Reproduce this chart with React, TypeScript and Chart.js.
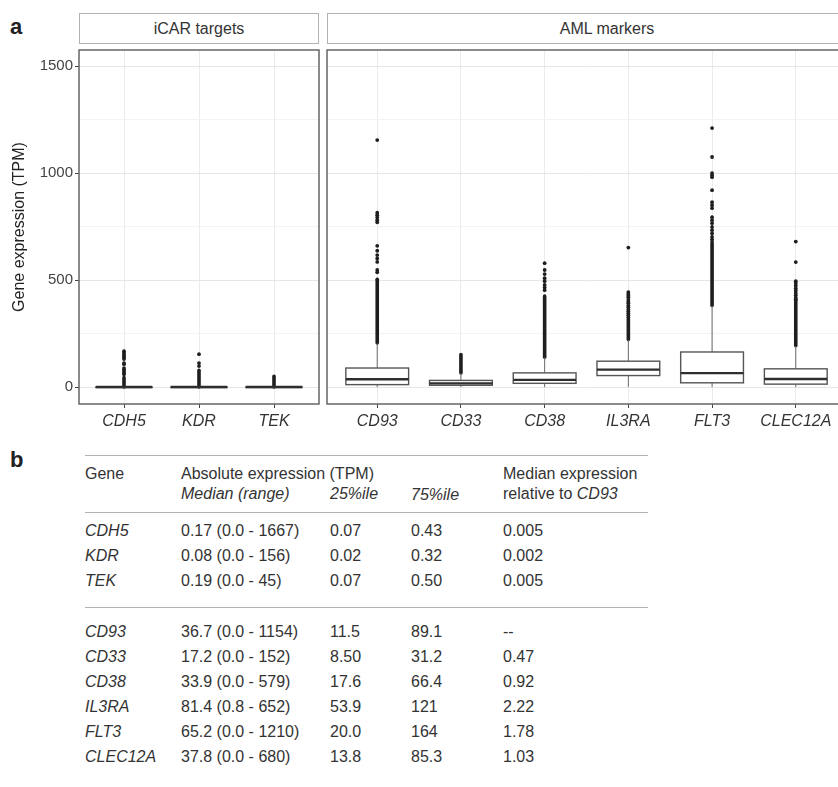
import React, { useEffect, useRef } from "react";
import { Chart, registerables } from "chart.js";
Chart.register(...registerables);

const FONT = '"Liberation Sans", Arial, Helvetica, sans-serif';

// ---------- y axis ----------
const yMin = -79;
const yMax = 1575;
const yGridValues = [0, 250, 500, 750, 1000, 1250, 1500];
const yLabelValues = [0, 500, 1000, 1500];
const yTitle = "Gene expression (TPM)";

// ---------- facet: iCAR targets ----------
const icarTitle = "iCAR targets";
const icarGenes = ["CDH5", "KDR", "TEK"];
const icarQ1 = [0.07, 0.02, 0.07];
const icarMedian = [0.17, 0.08, 0.19];
const icarQ3 = [0.43, 0.32, 0.5];
const icarWhiskerLow = [0, 0, 0];
const icarWhiskerHigh = [0.97, 0.77, 1.15];
const icarOutliers = [
  [168, 160, 152, 145, 138, 131, 112, 107, 89, 82, 75, 68, 60],
  [154, 112, 98],
  [],
];
const icarOutlierRuns = [[[1, 44]], [[1, 79]], [[1, 51]]];

// ---------- facet: AML markers ----------
const amlTitle = "AML markers";
const amlGenes = ["CD93", "CD33", "CD38", "IL3RA", "FLT3", "CLEC12A"];
const amlQ1 = [11.5, 8.5, 17.6, 53.9, 20.0, 13.8];
const amlMedian = [36.7, 17.2, 33.9, 81.4, 65.2, 37.8];
const amlQ3 = [89.1, 31.2, 66.4, 121, 164, 85.3];
const amlWhiskerLow = [0, 0, 0, 0.8, 0, 0];
const amlWhiskerHigh = [205, 65, 139, 221, 380, 192];
const amlOutliers = [
  [1154, 815, 803, 792, 780, 770, 660, 637, 617, 601, 585, 547, 536, 503],
  [],
  [579, 547, 528, 509, 495, 477, 465, 453],
  [652, 444, 436, 428, 420, 408, 399, 392, 381, 373, 362, 354, 345, 336, 326],
  [1210, 1075, 1000, 990, 981, 920, 864, 850, 836, 794, 780, 766, 748, 733, 718, 702, 690],
  [680, 584, 495, 486, 475, 462, 451, 440, 429, 418, 410],
];
const amlOutlierRuns = [
  [[206, 495]],
  [[66, 152]],
  [[140, 425]],
  [[222, 318]],
  [[381, 678]],
  [[193, 407]],
];

// ---------- table ----------
const tableGenes = ["CDH5", "KDR", "TEK", "CD93", "CD33", "CD38", "IL3RA", "FLT3", "CLEC12A"];
const tableMedianRange = [
  "0.17 (0.0 - 1667)",
  "0.08 (0.0 - 156)",
  "0.19 (0.0 - 45)",
  "36.7 (0.0 - 1154)",
  "17.2 (0.0 - 152)",
  "33.9 (0.0 - 579)",
  "81.4 (0.8 - 652)",
  "65.2 (0.0 - 1210)",
  "37.8 (0.0 - 680)",
];
const table25 = ["0.07", "0.02", "0.07", "11.5", "8.50", "17.6", "53.9", "20.0", "13.8"];
const table75 = ["0.43", "0.32", "0.50", "89.1", "31.2", "66.4", "121", "164", "85.3"];
const tableRel = ["0.005", "0.002", "0.005", "--", "0.47", "0.92", "2.22", "1.78", "1.03"];

type Facet = {
  genes: string[];
  q1: number[];
  med: number[];
  q3: number[];
  wLow: number[];
  wHigh: number[];
  outliers: number[][];
  runs: number[][][];
};

const icarFacet: Facet = {
  genes: icarGenes, q1: icarQ1, med: icarMedian, q3: icarQ3,
  wLow: icarWhiskerLow, wHigh: icarWhiskerHigh, outliers: icarOutliers, runs: icarOutlierRuns,
};
const amlFacet: Facet = {
  genes: amlGenes, q1: amlQ1, med: amlMedian, q3: amlQ3,
  wLow: amlWhiskerLow, wHigh: amlWhiskerHigh, outliers: amlOutliers, runs: amlOutlierRuns,
};

function boxPlugin(f: Facet) {
  return {
    id: "boxes",
    beforeDatasetsDraw(chart: any) {
      const { ctx, chartArea, scales } = chart;
      const x = scales.x;
      const y = scales.y;
      const py = (v: number) => y.getPixelForValue(v);
      ctx.save();
      ctx.beginPath();
      ctx.rect(chartArea.left, chartArea.top, chartArea.right - chartArea.left, chartArea.bottom - chartArea.top);
      ctx.clip();
      const half = x.getPixelForValue(1.375) - x.getPixelForValue(1);
      const line = (x1: number, y1: number, x2: number, y2: number) => {
        ctx.beginPath();
        ctx.moveTo(x1, y1);
        ctx.lineTo(x2, y2);
        ctx.stroke();
      };
      f.genes.forEach((_g, i) => {
        const cx = x.getPixelForValue(i + 1);
        // dense outlier runs
        ctx.strokeStyle = "#1e1e1e";
        ctx.lineWidth = 3.6;
        ctx.lineCap = "round";
        f.runs[i].forEach(([a, b]) => line(cx, py(a), cx, py(b)));
        ctx.lineCap = "butt";
        // whiskers
        ctx.strokeStyle = "#6a6a6a";
        ctx.lineWidth = 1;
        line(cx, py(f.q3[i]), cx, py(f.wHigh[i]));
        line(cx, py(f.q1[i]), cx, py(f.wLow[i]));
        // box
        const top = py(f.q3[i]);
        const bot = py(f.q1[i]);
        ctx.fillStyle = "#ffffff";
        ctx.fillRect(cx - half, top, 2 * half, bot - top);
        ctx.strokeStyle = "#555555";
        ctx.lineWidth = 1.4;
        ctx.strokeRect(cx - half, top, 2 * half, Math.max(bot - top, 0.5));
        // median
        ctx.strokeStyle = "#2e2e2e";
        ctx.lineWidth = 2.4;
        line(cx - half, py(f.med[i]), cx + half, py(f.med[i]));
      });
      ctx.restore();
    },
    afterDraw(chart: any) {
      const { ctx, chartArea } = chart;
      ctx.save();
      ctx.strokeStyle = "#666666";
      ctx.lineWidth = 1.5;
      ctx.strokeRect(chartArea.left, chartArea.top, chartArea.right - chartArea.left, chartArea.bottom - chartArea.top);
      ctx.restore();
    },
  };
}

function FacetChart(props: {
  facet: Facet;
  left: number;
  top: number;
  width: number;
  height: number;
  padLeft: number;
  padRight: number;
  padTop: number;
  showY: boolean;
}) {
  const ref = useRef<HTMLCanvasElement | null>(null);
  const { facet, left, top, width, height, padLeft, padRight, padTop, showY } = props;
  useEffect(() => {
    if (!ref.current) return;
    const n = facet.genes.length;
    const points: { x: number; y: number }[] = [];
    facet.outliers.forEach((vals, i) => vals.forEach((v) => points.push({ x: i + 1, y: v })));
    const chart = new Chart(ref.current, {
      type: "scatter",
      data: {
        datasets: [
          {
            data: points,
            pointRadius: 1.9,
            pointBackgroundColor: "#1e1e1e",
            pointBorderWidth: 0,
            pointHoverRadius: 1.9,
          },
        ],
      },
      options: {
        animation: false,
        responsive: false,
        maintainAspectRatio: false,
        events: [],
        layout: { padding: { left: padLeft, right: padRight, top: padTop, bottom: 0 } },
        plugins: { legend: { display: false }, tooltip: { enabled: false } },
        scales: {
          x: {
            type: "linear",
            min: 0.4,
            max: n + 0.6,
            afterBuildTicks: (s: any) => {
              s.ticks = facet.genes.map((_g, i) => ({ value: i + 1 }));
            },
            afterFit: (s: any) => {
              s.height = 40;
            },
            ticks: {
              autoSkip: false,
              maxRotation: 0,
              padding: 4,
              color: "#333333",
              font: { family: FONT, size: 16, style: "italic" },
              callback: (v: any) => facet.genes[Math.round(Number(v)) - 1] ?? "",
            },
            grid: { color: "#ebebeb", lineWidth: 1, tickColor: "#444444", tickLength: 4 },
            border: { display: false },
          },
          y: {
            type: "linear",
            min: yMin,
            max: yMax,
            afterBuildTicks: (s: any) => {
              s.ticks = yGridValues.map((v) => ({ value: v }));
            },
            afterFit: (s: any) => {
              s.width = showY ? 79 : 0;
            },
            ticks: {
              display: showY,
              padding: 2,
              color: "#444444",
              font: { family: FONT, size: 15 },
              callback: (v: any) => (yLabelValues.includes(Number(v)) ? String(v) : ""),
            },
            grid: {
              drawTicks: showY,
              tickLength: 4,
              color: (c: any) => (yLabelValues.includes(c.tick?.value) ? "#e6e6e6" : "#f3f3f3"),
              tickColor: (c: any) => (yLabelValues.includes(c.tick?.value) ? "#444444" : "rgba(0,0,0,0)"),
            },
            border: { display: false },
            title: {
              display: showY,
              text: yTitle,
              color: "#222222",
              font: { family: FONT, size: 16 },
              padding: { top: 10, bottom: 0 },
            },
          },
        },
      },
      plugins: [boxPlugin(facet)],
    } as any);
    return () => chart.destroy();
  }, []);
  return (
    <canvas
      ref={ref}
      width={width}
      height={height}
      style={{ position: "absolute", left, top, width, height }}
    />
  );
}

const strip = (left: number, width: number): React.CSSProperties => ({
  position: "absolute",
  left,
  top: 13,
  width,
  height: 31,
  border: "1px solid #b3b3b3",
  boxSizing: "border-box",
  background: "#fff",
  display: "flex",
  alignItems: "center",
  justifyContent: "center",
  fontFamily: FONT,
  fontSize: 16,
  color: "#333",
});

const rowYs = [531, 556, 581, 632, 657, 682, 707, 732, 757];
const colX = [85, 181, 330, 411, 503];

function Txt(props: { x: number; y: number; italic?: boolean; children: React.ReactNode }) {
  return (
    <div
      style={{
        position: "absolute",
        left: props.x,
        top: props.y - 10,
        height: 20,
        lineHeight: "20px",
        whiteSpace: "nowrap",
        fontFamily: FONT,
        fontSize: 16,
        color: "#333",
        fontStyle: props.italic ? "italic" : "normal",
      }}
    >
      {props.children}
    </div>
  );
}

const rule = (y: number): React.CSSProperties => ({
  position: "absolute",
  left: 85,
  top: y,
  width: 563,
  height: 0,
  borderTop: "1.5px solid #b3b3b3",
});

export default function App() {
  return (
    <div
      style={{
        position: "absolute",
        left: 0,
        top: 0,
        width: 838,
        height: 787,
        overflow: "hidden",
        background: "#fff",
      }}
    >
      <div style={{ position: "absolute", left: 10, top: 14, fontFamily: FONT, fontWeight: "bold", fontSize: 22, color: "#222" }}>a</div>
      <div style={strip(79, 240)}>{icarTitle}</div>
      <div style={strip(327, 560)}>{amlTitle}</div>
      <FacetChart facet={icarFacet} left={0} top={34} width={322} height={410} padLeft={0} padRight={3} padTop={16} showY={true} />
      <FacetChart facet={amlFacet} left={320} top={44} width={540} height={400} padLeft={7} padRight={14} padTop={6} showY={false} />

      <div style={{ position: "absolute", left: 10, top: 447, fontFamily: FONT, fontWeight: "bold", fontSize: 22, color: "#222" }}>b</div>
      <div style={rule(455)} />
      <Txt x={colX[0]} y={474}>Gene</Txt>
      <Txt x={colX[1]} y={474}>Absolute expression (TPM)</Txt>
      <Txt x={colX[4]} y={474}>Median expression</Txt>
      <Txt x={colX[1]} y={494} italic>Median (range)</Txt>
      <Txt x={colX[2]} y={494} italic>25%ile</Txt>
      <Txt x={colX[3]} y={495} italic>75%ile</Txt>
      <Txt x={colX[4]} y={494}>
        relative to <i>CD93</i>
      </Txt>
      <div style={rule(512)} />
      <div style={rule(607)} />
      {tableGenes.map((g, i) => (
        <React.Fragment key={g}>
          <Txt x={colX[0]} y={rowYs[i]} italic>{g}</Txt>
          <Txt x={colX[1]} y={rowYs[i]}>{tableMedianRange[i]}</Txt>
          <Txt x={colX[2]} y={rowYs[i]}>{table25[i]}</Txt>
          <Txt x={colX[3]} y={rowYs[i]}>{table75[i]}</Txt>
          <Txt x={colX[4]} y={rowYs[i]}>{tableRel[i]}</Txt>
        </React.Fragment>
      ))}
    </div>
  );
}
